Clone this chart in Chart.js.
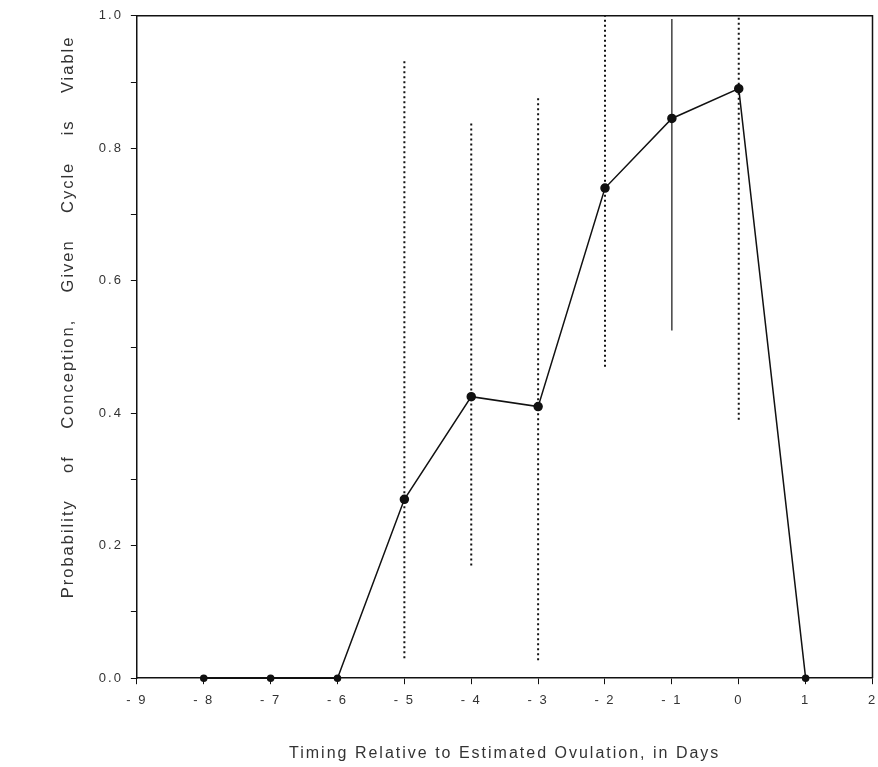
<!DOCTYPE html>
<html>
<head>
<meta charset="utf-8">
<script src="https://cdn.jsdelivr.net/npm/chart.js@4.4.0/dist/chart.umd.min.js"></script>
<style>
  html, body { margin: 0; padding: 0; background: #fff; }
  #wrap { width: 878px; height: 767px; }
</style>
</head>
<body>
<div id="wrap"><canvas id="chart"></canvas></div>
<script>
// days relative to estimated ovulation
const days = [-8, -7, -6, -5, -4, -3, -2, -1, 0, 1]
const prob = [0, 0, 0, 0.27, 0.425, 0.41, 0.74, 0.845, 0.89, 0]

// interval bars
const barDays = [-5, -4, -3, -2, -1, 0]
const barLow  = [0.03, 0.17, 0.027, 0.47, 0.525, 0.39]
const barHigh = [0.935, 0.84, 0.88, 1.0, 0.995, 1.0]
const barSolid = [false, false, false, false, true, false]

const yTicks = [0, 0.2, 0.4, 0.6, 0.8, 1.0]

let datasets = []
datasets.push({
    label: 'prob',
    data: days.map((d, i) => ({x: d, y: prob[i]})),
    borderColor: '#111',
    backgroundColor: '#111',
    borderWidth: 1.5,
    pointRadius: prob.map(p => p > 0 ? 4 : 3),
    pointHoverRadius: 4,
    tension: 0,
    clip: false
})
barDays.forEach((d, i) => {
    datasets.push({
        label: 'bar' + d,
        data: [{x: d, y: barLow[i]}, {x: d, y: barHigh[i]}],
        borderColor: '#111',
        borderWidth: barSolid[i] ? 1.2 : 2,
        borderDash: barSolid[i] ? [] : [2, 3],
        pointRadius: 0
    })
})

// wider letters, like the old printout
const spacing = {
    id: 'spacing',
    beforeInit(chart) { chart.ctx.letterSpacing = '2px' },
    beforeUpdate(chart) { chart.ctx.letterSpacing = '2px' },
    beforeDraw(chart) { chart.ctx.letterSpacing = '2px' }
}

// top and right frame lines
const frame = {
    id: 'frame',
    afterDraw(chart) {
        const a = chart.chartArea, c = chart.ctx
        c.save()
        c.strokeStyle = '#111'
        c.lineWidth = 1.5
        c.beginPath()
        c.moveTo(a.left, a.top)
        c.lineTo(a.right, a.top)
        c.lineTo(a.right, a.bottom)
        c.stroke()
        c.restore()
    }
}

const ctx = document.getElementById('chart')
new Chart(ctx, {
    type: 'line',
    data: { datasets: datasets },
    plugins: [spacing, frame],
    options: {
        responsive: true,
        maintainAspectRatio: false,
        animation: false,
        layout: { padding: { left: 59, right: -4, top: 10, bottom: 4 } },
        plugins: { legend: { display: false }, tooltip: { enabled: false } },
        scales: {
            x: {
                type: 'linear',
                min: -9, max: 2,
                afterFit: s => { s.paddingRight = 0 },
                border: { display: true, color: '#111', width: 1.5 },
                grid: { drawOnChartArea: false, drawTicks: true, tickLength: 6, color: '#111' },
                ticks: {
                    stepSize: 1, color: '#333', padding: 8,
                    font: { family: 'Liberation Sans, Arial', size: 13 },
                    callback: v => v < 0 ? '- ' + Math.abs(v) : String(v)
                },
                title: {
                    display: true,
                    text: 'Timing Relative to Estimated Ovulation, in Days',
                    color: '#333',
                    font: { family: 'Liberation Sans, Arial', size: 16 },
                    padding: { top: 28, bottom: 0 }
                }
            },
            y: {
                min: 0, max: 1,
                border: { display: true, color: '#111', width: 1.5 },
                grid: { drawOnChartArea: false, drawTicks: true, tickLength: 6, color: '#111' },
                ticks: {
                    stepSize: 0.1, color: '#333', padding: 8,
                    font: { family: 'Liberation Sans, Arial', size: 13 },
                    callback: v => {
                        let r = Math.round(v * 10) / 10
                        return yTicks.some(t => Math.abs(t - r) < 1e-6) ? r.toFixed(1) : ''
                    }
                },
                title: {
                    display: true,
                    align: 'end',
                    text: 'Probability    of    Conception,    Given    Cycle    is    Viable   ',
                    color: '#333',
                    font: { family: 'Liberation Sans, Arial', size: 16.5 },
                    padding: { top: 0, bottom: 12 }
                }
            }
        }
    }
})
</script>
</body>
</html>
